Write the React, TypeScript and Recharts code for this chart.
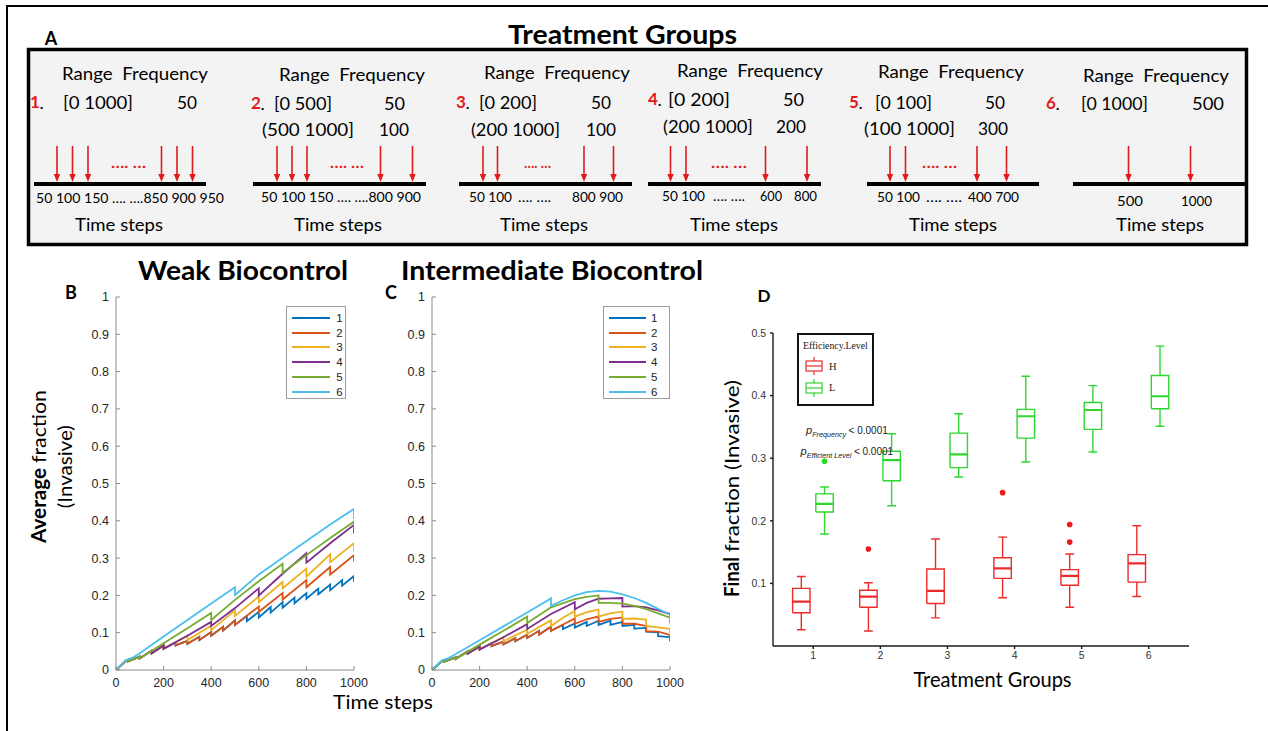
import React from 'react';
import { LineChart, ComposedChart, Line, XAxis, YAxis, Legend, Scatter } from 'recharts';

type P = [number, number];

const FONT = "Lato, 'Noto Sans', sans-serif";
const HELV = "'Liberation Sans', Arial, sans-serif";
const SERIF = "'Liberation Serif', 'DejaVu Serif', serif";
const AXIS = '#8a8a8a';

// ---------- Panels B & C ----------
const seriesNames = ['1', '2', '3', '4', '5', '6'];
const seriesColors = ['#0072BD', '#D95319', '#EDB120', '#7E2F8E', '#77AC30', '#4DBEEE'];
const timeTicks = [0, 200, 400, 600, 800, 1000];
const fractionTicks = [0, 0.1, 0.2, 0.3, 0.4, 0.5, 0.6, 0.7, 0.8, 0.9, 1];

// Weak biocontrol (B)
const weakStart15: P[] = [[0, 0], [42, 0.025], [50, 0.027], [50, 0.023], [100, 0.036], [100, 0.031]];
const weakStart14: P[] = [[150, 0.052], [150, 0.045], [200, 0.066], [200, 0.057]];
const weakStart12: P[] = [[250, 0.074], [250, 0.066], [300, 0.078], [300, 0.070], [350, 0.089], [350, 0.080], [400, 0.102], [400, 0.092], [450, 0.116], [450, 0.106], [500, 0.133], [500, 0.121]];
const weakTail1: P[] = [[550, 0.145], [550, 0.131], [600, 0.156], [600, 0.141], [650, 0.169], [650, 0.154], [700, 0.182], [700, 0.167], [750, 0.194], [750, 0.179], [800, 0.206], [800, 0.191], [850, 0.218], [850, 0.203], [900, 0.229], [900, 0.214], [950, 0.241], [950, 0.226], [1000, 0.252], [1000, 0.236]];
const weakTail2: P[] = [[600, 0.170], [600, 0.156], [700, 0.206], [700, 0.189], [800, 0.241], [800, 0.222], [900, 0.276], [900, 0.256], [1000, 0.308], [1000, 0.290]];
const weakTail3: P[] = [[300, 0.092], [300, 0.080], [400, 0.119], [400, 0.107], [500, 0.160], [500, 0.145], [600, 0.197], [600, 0.182], [700, 0.236], [700, 0.219], [800, 0.272], [800, 0.250], [900, 0.310], [900, 0.289], [1000, 0.340], [1000, 0.317]];
const weakTail4: P[] = [[300, 0.092], [400, 0.129], [400, 0.118], [500, 0.166], [600, 0.219], [600, 0.200], [700, 0.258], [800, 0.313], [800, 0.288], [900, 0.340], [1000, 0.389], [1000, 0.366]];
const weakTail5: P[] = [[200, 0.072], [300, 0.112], [400, 0.153], [400, 0.134], [500, 0.188], [600, 0.238], [700, 0.285], [700, 0.261], [800, 0.308], [900, 0.354], [1000, 0.398], [1000, 0.382]];
const weak6: P[] = [[0, 0], [42, 0.027], [70, 0.033], [100, 0.045], [200, 0.090], [300, 0.134], [400, 0.178], [500, 0.222], [500, 0.201], [600, 0.256], [700, 0.301], [800, 0.346], [900, 0.390], [1000, 0.432], [1000, 0.405]];

// Intermediate biocontrol (C)
const interStart15: P[] = [[0, 0], [42, 0.024], [50, 0.026], [50, 0.022], [100, 0.034], [100, 0.030]];
const interStart14: P[] = [[150, 0.050], [150, 0.044], [200, 0.063], [200, 0.055]];
const interStart12: P[] = [[250, 0.072], [250, 0.064], [300, 0.076], [300, 0.069], [350, 0.085], [350, 0.077], [400, 0.095], [400, 0.086], [450, 0.105], [450, 0.095], [500, 0.116], [500, 0.105]];
const interTail1: P[] = [[550, 0.121], [550, 0.110], [600, 0.125], [600, 0.114], [650, 0.129], [650, 0.118], [700, 0.132], [700, 0.121], [750, 0.132], [750, 0.121], [800, 0.129], [800, 0.118], [850, 0.121], [850, 0.111], [900, 0.113], [900, 0.103], [950, 0.101], [950, 0.091], [1000, 0.088], [1000, 0.077]];
const interTail2: P[] = [[600, 0.138], [600, 0.124], [650, 0.136], [700, 0.144], [700, 0.129], [750, 0.137], [800, 0.141], [800, 0.124], [850, 0.124], [900, 0.118], [900, 0.104], [950, 0.103], [1000, 0.094], [1000, 0.080]];
const interTail3: P[] = [[300, 0.088], [300, 0.077], [400, 0.108], [400, 0.097], [500, 0.133], [500, 0.118], [550, 0.140], [600, 0.158], [600, 0.143], [650, 0.155], [700, 0.162], [700, 0.144], [750, 0.152], [800, 0.157], [800, 0.137], [850, 0.138], [900, 0.135], [900, 0.118], [950, 0.114], [1000, 0.110], [1000, 0.100]];
const interTail4: P[] = [[300, 0.088], [400, 0.123], [400, 0.110], [500, 0.150], [600, 0.182], [600, 0.163], [650, 0.180], [700, 0.191], [750, 0.192], [800, 0.193], [800, 0.170], [850, 0.171], [900, 0.168], [950, 0.160], [1000, 0.150], [1000, 0.143]];
const interTail5: P[] = [[200, 0.068], [300, 0.105], [400, 0.143], [400, 0.126], [500, 0.168], [600, 0.190], [650, 0.196], [700, 0.200], [700, 0.180], [750, 0.180], [800, 0.178], [850, 0.172], [900, 0.163], [950, 0.152], [1000, 0.140], [1000, 0.125]];
const inter6: P[] = [[0, 0], [42, 0.026], [70, 0.032], [100, 0.043], [200, 0.080], [300, 0.117], [400, 0.154], [500, 0.192], [500, 0.172], [550, 0.187], [600, 0.200], [650, 0.209], [700, 0.212], [750, 0.210], [800, 0.203], [850, 0.193], [900, 0.180], [950, 0.164], [1000, 0.148], [1000, 0.133]];

const weakSeries: P[][] = [
  [...weakStart15, ...weakStart14, ...weakStart12, ...weakTail1],
  [...weakStart15, ...weakStart14, ...weakStart12, ...weakTail2],
  [...weakStart15, ...weakStart14, ...weakTail3],
  [...weakStart15, ...weakStart14, ...weakTail4],
  [...weakStart15, ...weakTail5],
  weak6,
];
const interSeries: P[][] = [
  [...interStart15, ...interStart14, ...interStart12, ...interTail1],
  [...interStart15, ...interStart14, ...interStart12, ...interTail2],
  [...interStart15, ...interStart14, ...interTail3],
  [...interStart15, ...interStart14, ...interTail4],
  [...interStart15, ...interTail5],
  inter6,
];

// ---------- Panel D ----------
const groups = [1, 2, 3, 4, 5, 6];
const finalTicks = [0.1, 0.2, 0.3, 0.4, 0.5];
const hMin = [0.026, 0.024, 0.045, 0.077, 0.062, 0.079];
const hQ1 = [0.053, 0.062, 0.068, 0.108, 0.097, 0.102];
const hMed = [0.071, 0.079, 0.088, 0.124, 0.112, 0.132];
const hQ3 = [0.092, 0.089, 0.123, 0.141, 0.122, 0.146];
const hMax = [0.111, 0.101, 0.171, 0.174, 0.147, 0.192];
const lMin = [0.179, 0.224, 0.270, 0.294, 0.310, 0.351];
const lQ1 = [0.214, 0.264, 0.285, 0.332, 0.346, 0.379];
const lMed = [0.227, 0.297, 0.306, 0.367, 0.377, 0.399];
const lQ3 = [0.243, 0.311, 0.340, 0.378, 0.389, 0.432];
const lMax = [0.254, 0.339, 0.371, 0.431, 0.416, 0.479];
const hOutliers: P[] = [[2, 0.155], [4, 0.245], [5, 0.194], [5, 0.166]];
const lOutliers: P[] = [[1, 0.295]];

const H_COLOR = '#ee2a2a';
const L_COLOR = '#2fd62f';
const H_OFF = -0.178;
const L_OFF = 0.168;

const toRows = (pts: P[]) => pts.map(([t, v]) => ({ t, v }));

function frameRows(lo: number[], q1: number[], q3: number[], hi: number[], off: number) {
  const rows: { x: number; y: number | null }[] = [];
  const w = 0.13;
  const c = 0.065;
  groups.forEach((g, i) => {
    const x = g + off;
    rows.push(
      { x: x - w, y: q1[i] }, { x: x + w, y: q1[i] }, { x: x + w, y: q3[i] }, { x: x - w, y: q3[i] }, { x: x - w, y: q1[i] }, { x, y: null },
      { x, y: q3[i] }, { x, y: hi[i] }, { x, y: null },
      { x: x - c, y: hi[i] }, { x: x + c, y: hi[i] }, { x, y: null },
      { x, y: q1[i] }, { x, y: lo[i] }, { x, y: null },
      { x: x - c, y: lo[i] }, { x: x + c, y: lo[i] }, { x, y: null },
    );
  });
  return rows;
}
function medianRows(md: number[], off: number) {
  const rows: { x: number; y: number | null }[] = [];
  groups.forEach((g, i) => {
    const x = g + off;
    rows.push({ x: x - 0.13, y: md[i] }, { x: x + 0.13, y: md[i] }, { x, y: null });
  });
  return rows;
}
const outRows = (pts: P[], off: number) => pts.map(([g, y]) => ({ x: g + off, y }));

// ---------- Legends ----------
const seriesLegend = (sample: number, gap: number, width: number) => (props: any) => {
  const items = (props.payload || []).filter((p: any) => seriesNames.includes(String(p.value)));
  return (
    <div style={{ position: 'relative', width, height: 93, border: '1px solid #9c9c9c', boxSizing: 'border-box', background: '#fff' }}>
      {items.map((p: any, i: number) => (
        <div key={p.value} style={{ position: 'absolute', left: 5, top: 3.7 + i * 14.8, height: 14, display: 'flex', alignItems: 'center' }}>
          <span style={{ display: 'inline-block', width: sample, height: 2, background: p.color }} />
          <span style={{ marginLeft: gap, fontSize: 11.5, fontFamily: HELV, color: '#222', lineHeight: '14px' }}>{p.value}</span>
        </div>
      ))}
    </div>
  );
};

const boxLegend = (props: any) => {
  const items = (props.payload || []).filter((p: any) => p.value === 'H' || p.value === 'L');
  return (
    <div style={{ position: 'relative', width: 77, height: 73, border: '2px solid #111', boxSizing: 'border-box', background: '#fff', fontFamily: SERIF }}>
      <div style={{ position: 'absolute', left: 4, top: 4, fontSize: 9.8, lineHeight: '13px', color: '#222', whiteSpace: 'nowrap' }}>Efficiency.Level</div>
      {items.map((p: any, i: number) => (
        <div key={p.value} style={{ position: 'absolute', left: 6, top: 22 + i * 21.5, display: 'flex', alignItems: 'center' }}>
          <svg width={18} height={18} style={{ display: 'block' }}>
            <line x1={9} y1={0} x2={9} y2={18} stroke={p.color} strokeWidth={1.2} />
            <rect x={1} y={4} width={16} height={10} fill="#fff" stroke={p.color} strokeWidth={1.2} />
            <line x1={1} y1={9} x2={17} y2={9} stroke={p.color} strokeWidth={1.2} />
          </svg>
          <span style={{ marginLeft: 6, fontSize: 10.5, color: '#222' }}>{p.value}</span>
        </div>
      ))}
    </div>
  );
};

// ---------- Charts ----------
function TimeChart({ left, series, legendLeft, legendWidth, sample, gap }: { left: number; series: P[][]; legendLeft: number; legendWidth: number; sample: number; gap: number }) {
  const tickStyle = { fill: '#262626', fontSize: 12.5, fontFamily: HELV };
  return (
    <div style={{ position: 'absolute', left, top: 280 }}>
      <LineChart width={330} height={420} margin={{ top: 17, right: 36, bottom: 0, left: 0 }}>
        <XAxis xAxisId="b" dataKey="t" type="number" domain={[0, 1000]} ticks={timeTicks} interval={0} tickSize={-4} tickMargin={12} height={30} stroke={AXIS} tick={tickStyle} allowDataOverflow />
        <XAxis xAxisId="t" orientation="top" dataKey="t" type="number" domain={[0, 1000]} ticks={timeTicks} interval={0} tickSize={-4} tick={false} height={0} stroke={AXIS} allowDataOverflow />
        <YAxis yAxisId="l" type="number" domain={[0, 1]} ticks={fractionTicks} interval={0} tickSize={-4} tickMargin={11} width={56} stroke={AXIS} tick={tickStyle} allowDataOverflow />
        <YAxis yAxisId="r" orientation="right" type="number" domain={[0, 1]} ticks={fractionTicks} interval={0} tickSize={-4} tick={false} width={0} stroke={AXIS} allowDataOverflow />
        {series.map((s, i) => (
          <Line key={i} xAxisId="b" yAxisId="l" data={toRows(s)} dataKey="v" name={seriesNames[i]} type="linear" stroke={seriesColors[i]} strokeWidth={1.8} dot={false} activeDot={false} isAnimationActive={false} />
        ))}
        <Legend layout="vertical" align="center" verticalAlign="middle" wrapperStyle={{ left: legendLeft, top: 26, width: legendWidth, height: 93 }} content={seriesLegend(sample, gap, legendWidth)} />
      </LineChart>
    </div>
  );
}

const dotShape = (color: string) => (props: any) => <circle cx={props.cx} cy={props.cy} r={2.8} fill={color} />;

function BoxChart() {
  const tickStyle = { fill: '#333', fontSize: 10.5, fontFamily: HELV };
  return (
    <div style={{ position: 'absolute', left: 700, top: 310 }}>
      <ComposedChart width={500} height={366} margin={{ top: 23, right: 11, bottom: 0, left: 0 }}>
        <XAxis xAxisId="x" dataKey="x" type="number" domain={[0.4, 6.6]} ticks={groups} interval={0} tickSize={3} tickMargin={3} height={30} stroke="#1a1a1a" strokeWidth={1.4} tick={tickStyle} allowDataOverflow />
        <XAxis xAxisId="xt" orientation="top" dataKey="x" type="number" domain={[0.4, 6.6]} tick={false} tickLine={false} height={0} stroke="#a0a0a0" allowDataOverflow />
        <YAxis yAxisId="y" type="number" domain={[0, 0.5]} ticks={finalTicks} interval={0} tickSize={3} tickMargin={4} width={73} stroke="#1a1a1a" strokeWidth={1.4} tick={tickStyle} allowDataOverflow />
        <YAxis yAxisId="yr" orientation="right" type="number" domain={[0, 0.5]} tick={false} tickLine={false} width={0} stroke="#a0a0a0" allowDataOverflow />
        <Line xAxisId="x" yAxisId="y" data={frameRows(hMin, hQ1, hQ3, hMax, H_OFF)} dataKey="y" name="H" type="linear" stroke={H_COLOR} strokeWidth={1.4} dot={false} activeDot={false} isAnimationActive={false} />
        <Line xAxisId="x" yAxisId="y" data={medianRows(hMed, H_OFF)} dataKey="y" name="Hmed" legendType="none" type="linear" stroke={H_COLOR} strokeWidth={2.2} dot={false} activeDot={false} isAnimationActive={false} />
        <Line xAxisId="x" yAxisId="y" data={frameRows(lMin, lQ1, lQ3, lMax, L_OFF)} dataKey="y" name="L" type="linear" stroke={L_COLOR} strokeWidth={1.4} dot={false} activeDot={false} isAnimationActive={false} />
        <Line xAxisId="x" yAxisId="y" data={medianRows(lMed, L_OFF)} dataKey="y" name="Lmed" legendType="none" type="linear" stroke={L_COLOR} strokeWidth={2.2} dot={false} activeDot={false} isAnimationActive={false} />
        <Scatter xAxisId="x" yAxisId="y" data={outRows(hOutliers, H_OFF)} dataKey="y" name="Hout" legendType="none" isAnimationActive={false} shape={dotShape('#f01818')} />
        <Scatter xAxisId="x" yAxisId="y" data={outRows(lOutliers, L_OFF)} dataKey="y" name="Lout" legendType="none" isAnimationActive={false} shape={dotShape('#22dd22')} />
        <Legend layout="vertical" align="center" verticalAlign="middle" wrapperStyle={{ left: 97, top: 23, width: 77, height: 73 }} content={boxLegend} />
      </ComposedChart>
    </div>
  );
}

// ---------- Panel A (schematic) ----------
type Txt = { t: string; x: number; w?: number };
type APanel = { n: string; nx: number; ny: number; rfx: number; rfy: number; rows: { y: number; r: Txt; f: Txt }[]; arrows: number[]; dots: [number, number]; line: [number, number]; ticks: Txt[]; ty: number; tsx: number };

const aPanels: APanel[] = [
  { n: '1', nx: 30, ny: 104, rfx: 62, rfy: 75, rows: [{ y: 104, r: { t: '[0 1000]', x: 63, w: 70 }, f: { t: '50', x: 177, w: 20 } }], arrows: [57, 72.5, 88, 161.5, 177, 192.5], dots: [111, 35], line: [34, 206], ticks: [{ t: '50 100 150 …. ….850 900 950', x: 36, w: 188 }], ty: 199.5, tsx: 75 },
  { n: '2', nx: 251, ny: 105, rfx: 279, rfy: 76, rows: [{ y: 105, r: { t: '[0 500]', x: 274, w: 58 }, f: { t: '50', x: 384, w: 21 } }, { y: 131, r: { t: '(500 1000]', x: 262, w: 92 }, f: { t: '100', x: 379, w: 30 } }], arrows: [277, 292, 307, 380.5, 412.5], dots: [330, 34], line: [253, 426], ticks: [{ t: '50 100 150 …. ….800 900', x: 261, w: 160 }], ty: 199, tsx: 294 },
  { n: '3', nx: 456, ny: 104, rfx: 484, rfy: 74, rows: [{ y: 104, r: { t: '[0 200]', x: 479, w: 58 }, f: { t: '50', x: 591, w: 20 } }, { y: 131, r: { t: '(200 1000]', x: 471, w: 89 }, f: { t: '100', x: 586, w: 30 } }], arrows: [483, 497.5, 584, 613.5], dots: [524, 27], line: [459, 632], ticks: [{ t: '50 100', x: 469, w: 43 }, { t: '…. ….', x: 518, w: 33 }, { t: '800 900', x: 572, w: 51 }], ty: 199, tsx: 500 },
  { n: '4', nx: 648, ny: 101, rfx: 677, rfy: 72, rows: [{ y: 101, r: { t: '[0 200]', x: 668, w: 62 }, f: { t: '50', x: 783, w: 21 } }, { y: 128, r: { t: '(200 1000]', x: 663, w: 90 }, f: { t: '200', x: 776, w: 30 } }], arrows: [670.5, 686, 765.5, 807], dots: [711, 36], line: [648, 821], ticks: [{ t: '50 100', x: 662, w: 43 }, { t: '…. ….', x: 713, w: 32 }, { t: '600', x: 760, w: 22 }, { t: '800', x: 794, w: 23 }], ty: 198, tsx: 690 },
  { n: '5', nx: 849, ny: 104, rfx: 878, rfy: 73, rows: [{ y: 104, r: { t: '[0 100]', x: 875, w: 57 }, f: { t: '50', x: 985, w: 20 } }, { y: 130, r: { t: '(100 1000]', x: 864, w: 91 }, f: { t: '300', x: 978, w: 30 } }], arrows: [890, 905.5, 977, 1006.5], dots: [922, 35], line: [867, 1039], ticks: [{ t: '50 100', x: 877, w: 43 }, { t: '…. ….', x: 926, w: 36 }, { t: '400 700', x: 968, w: 51 }], ty: 199, tsx: 909 },
  { n: '6', nx: 1046, ny: 105, rfx: 1083, rfy: 77, rows: [{ y: 105, r: { t: '[0 1000]', x: 1081, w: 67 }, f: { t: '500', x: 1192, w: 32 } }], arrows: [1128.5, 1190.5], dots: [0, 0], line: [1073, 1247], ticks: [{ t: '500', x: 1117, w: 26 }, { t: '1000', x: 1181, w: 31 }], ty: 203, tsx: 1116 },
];

function T({ x, y, w, size, weight = 400, fill = '#000', anchor = 'start', family = FONT, children }: any) {
  const extra: any = w ? { textLength: w, lengthAdjust: 'spacingAndGlyphs' } : {};
  return (
    <text x={x} y={y} fontSize={size} fontWeight={weight} fill={fill} textAnchor={anchor} dominantBaseline="middle" fontFamily={family} {...extra}>
      {children}
    </text>
  );
}

function Arrow({ x }: { x: number }) {
  return (
    <g>
      <line x1={x} y1={146} x2={x} y2={175} stroke="#e01b1b" strokeWidth={1.6} />
      <polygon points={`${x - 3.2},${174} ${x + 3.2},${174} ${x},${182}`} fill="#e01b1b" />
    </g>
  );
}

function PanelA() {
  return (
    <g>
      <rect x={28.5} y={49.5} width={1218} height={195} fill="#f3f3f3" stroke="#000" strokeWidth={3.5} />
      {aPanels.map((p) => (
        <g key={p.n}>
          <T x={p.rfx} y={p.rfy} w={146} size={18}>{'Range\u00A0\u00A0Frequency'}</T>
          <T x={p.nx} y={p.ny} size={17} weight={700} fill="#e31a1c">{p.n}</T>
          <T x={p.nx + 9.5} y={p.ny} size={18}>.</T>
          {p.rows.map((r, i) => (
            <g key={i}>
              <T x={r.r.x} y={r.y} w={r.r.w} size={18}>{r.r.t}</T>
              <T x={r.f.x} y={r.y} w={r.f.w} size={18}>{r.f.t}</T>
            </g>
          ))}
          {p.arrows.map((a, i) => <Arrow key={i} x={a} />)}
          {p.dots[1] > 0 && <T x={p.dots[0]} y={164} w={p.dots[1]} size={15} weight={700} fill="#e01b1b">{'…. …'}</T>}
          <line x1={p.line[0]} y1={184} x2={p.line[1]} y2={184} stroke="#000" strokeWidth={4} />
          {p.ticks.map((t, i) => <T key={i} x={t.x} y={p.ty} w={t.w} size={13}>{t.t}</T>)}
          <T x={p.tsx} y={227} w={88} size={17.5}>Time steps</T>
        </g>
      ))}
    </g>
  );
}

function Overlay() {
  return (
    <svg width={1268} height={731} style={{ position: 'absolute', left: 0, top: 0, pointerEvents: 'none' }}>
      <line x1={6} y1={6} x2={1268} y2={6} stroke="#000" strokeWidth={2} />
      <line x1={7} y1={6} x2={7} y2={731} stroke="#000" strokeWidth={2} />
      <T x={622.5} y={37} w={229} size={26} weight={700} anchor="middle">Treatment Groups</T>
      <T x={51} y={40} size={18} weight={700} anchor="middle">A</T>
      <PanelA />
      <T x={243} y={273} w={210} size={26} weight={700} anchor="middle">Weak Biocontrol</T>
      <T x={552} y={273} w={302} size={26} weight={700} anchor="middle">Intermediate Biocontrol</T>
      <T x={71} y={294} size={18} weight={700} anchor="middle">B</T>
      <T x={391} y={294} size={18} weight={700} anchor="middle">C</T>
      <g transform="translate(41,543) rotate(-90)">
        <T x={0} y={0} w={75} size={20} weight={700}>Average</T>
        <T x={80} y={0} w={73} size={20}>fraction</T>
      </g>
      <g transform="translate(67,466.7) rotate(-90)">
        <T x={0} y={0} w={83} size={20} anchor="middle">(Invasive)</T>
      </g>
      <T x={383} y={704} w={100} size={20} anchor="middle">Time steps</T>
      <T x={764} y={298} size={17} weight={700} anchor="middle">D</T>
      <g transform="translate(734,597) rotate(-90)">
        <T x={0} y={0} w={40} size={20} weight={700}>Final</T>
        <T x={45} y={0} w={172} size={20}>fraction (Invasive)</T>
      </g>
      <T x={992.5} y={682} w={158} size={21} anchor="middle">Treatment Groups</T>
      <text x={806} y={433.5} fontFamily={HELV} fill="#222">
        <tspan fontStyle="italic" fontSize={11}>p</tspan>
        <tspan fontStyle="italic" fontSize={7.2} dy={3}>Frequency</tspan>
        <tspan fontSize={10} dy={-3} dx={2.5}>{'< 0.0001'}</tspan>
      </text>
      <text x={800.5} y={454.6} fontFamily={HELV} fill="#222">
        <tspan fontStyle="italic" fontSize={11}>p</tspan>
        <tspan fontStyle="italic" fontSize={7.2} dy={3}>Efficient Level</tspan>
        <tspan fontSize={10} dy={-3} dx={2.5}>{'< 0.0001'}</tspan>
      </text>
    </svg>
  );
}

export default function App() {
  return (
    <div style={{ position: 'relative', width: 1268, height: 731, background: '#fff', overflow: 'hidden' }}>
      <style>{`body{margin:0}`}</style>
      <TimeChart left={60} series={weakSeries} legendLeft={226} legendWidth={60} sample={37.6} gap={6.7} />
      <TimeChart left={376} series={interSeries} legendLeft={227} legendWidth={67} sample={37} gap={5} />
      <BoxChart />
      <Overlay />
    </div>
  );
}
